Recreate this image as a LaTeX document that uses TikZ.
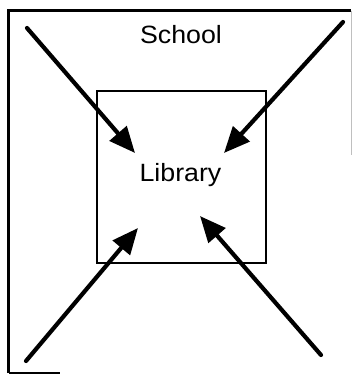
\documentclass[tikz,border=0pt]{standalone}
\usepackage{fontspec}
\setmainfont{Liberation Sans}
\usetikzlibrary{arrows.meta}
\begin{document}
\begin{tikzpicture}[x=1pt,y=-1pt,
  border/.style={line width=2.6pt},
  bigarrow/.style={line width=4.2pt, line cap=round, -{Triangle[length=26pt,width=22pt]}},
  lbl/.style={font=\fontsize{25}{29}\selectfont, inner sep=0pt}]
\useasboundingbox (0,0) rectangle (352,375);
% outer box (School)
\coordinate (obl) at (8.5,373);
\coordinate (otl) at (8.5,10.5);
\coordinate (otr) at (351,10.5);
\coordinate (orm) at (351,155);
\coordinate (obm) at (60,373);
\draw[border] (obl) -- (otl) -- (otr);
\draw[gray!50, line width=1pt] (otr) -- (orm);
\draw[border] (obl) -- (obm);
\node[lbl] (school) at (181,35) {\scalebox{1.07}[1]{School}};
% inner box (Library)
\node[draw, line width=2.6pt, minimum width=169pt, minimum height=172pt, inner sep=0pt] (libbox) at (181.5,177) {};
\node[lbl] (library) at (180.5,175) {\scalebox{1.07}[1]{Library}};
% arrows
\coordinate (s1) at (27,28);
\coordinate (e1) at (135,153);
\coordinate (s2) at (343,22);
\coordinate (e2) at (224,153);
\coordinate (s3) at (26,361);
\coordinate (e3) at (138,228);
\coordinate (s4) at (321,355);
\coordinate (e4) at (200,216);
\draw[bigarrow] (s1) -- (e1);
\draw[bigarrow] (s2) -- (e2);
\draw[bigarrow] (s3) -- (e3);
\draw[bigarrow] (s4) -- (e4);
\end{tikzpicture}
\end{document}
